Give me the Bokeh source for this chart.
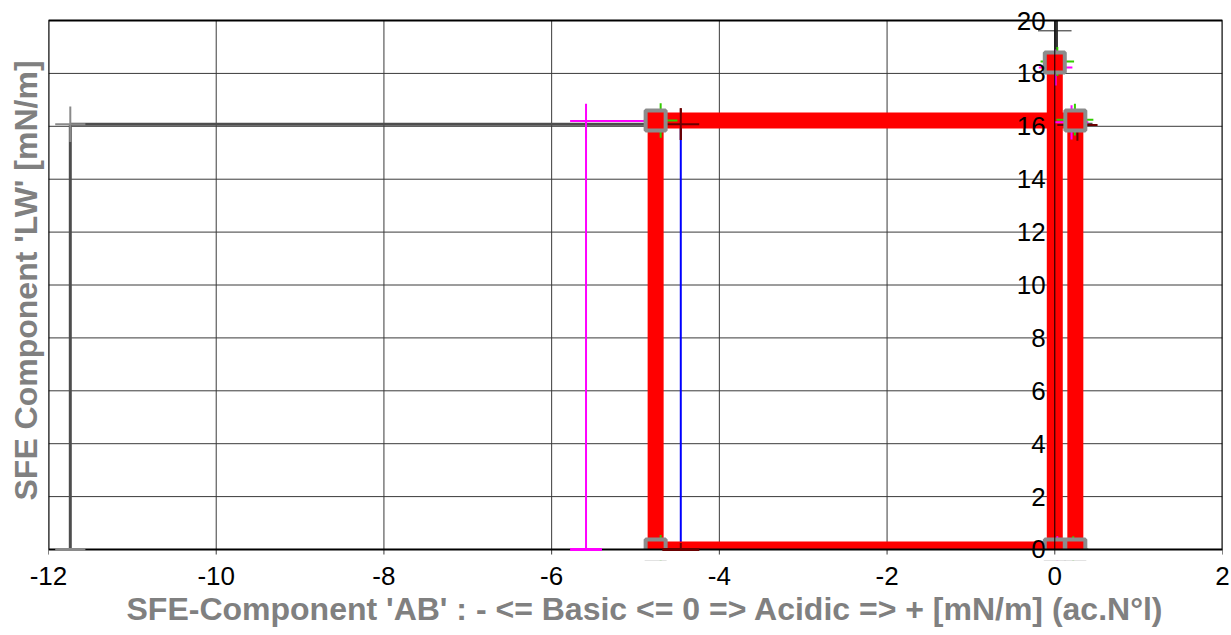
from bokeh.plotting import figure
from bokeh.models import Range1d, FixedTicker, Title, LabelSet, ColumnDataSource
from bokeh.core.properties import value
from bokeh.embed import file_html
from bokeh.resources import INLINE

# axis ticks
x_ticks = [-12, -10, -8, -6, -4, -2, 0, 2]
y_ticks = [0, 2, 4, 6, 8, 10, 12, 14, 16, 18, 20]

# test liquids: AB component, LW component and their spreads
liq_names = ["liquid 1", "liquid 2", "liquid 3"]
liq_ab = [-11.74, -5.59, -4.46]
liq_lw = [16.08, 16.20, 16.08]
liq_ab_err = [0.18, 0.19, 0.22]
liq_lw_err = [0.67, 0.65, 0.60]

# solid result: base part, acid part, LW part, total SFE
solid_base = -4.76
solid_acid = 0.245
solid_lw = 16.22
solid_total = 18.41
total_err = 0.80

# single measurement points around the result corners
pt_x = [-4.70, -4.46, 0.01, 0.03, 0.20, 0.24, 0.27, -4.70, -4.46, 0.03, 0.22]
pt_y = [16.22, 16.08, 18.22, 18.45, 16.15, 16.25, 16.05, 0.0, 0.0, 0.0, 0.0]
pt_xerr = [0.20, 0.22, 0.20, 0.20, 0.20, 0.22, 0.24, 0.20, 0.22, 0.18, 0.18]
pt_yerr = [0.65, 0.60, 0.68, 0.55, 0.65, 0.60, 0.60, 0.55, 0.25, 0.50, 0.50]

# styles
liq_line_colors = ["#4d4d4d", "#ff00ff", "#0000ff"]
liq_line_widths = [3, 2, 2]
liq_err_colors = ["#8a8a8a", "#ff00ff", "#6b0000"]
pt_colors = ["#33cc00", "#6b0000", "#ff00ff", "#33cc00", "#ff00ff", "#33cc00",
             "#6b0000", "#33cc00", "#6b0000", "#ff00ff", "#33cc00"]
FONT = "Liberation Sans"
TICK_SIZE = "26px"
LABEL_SIZE = "32px"

x0, x1 = x_ticks[0], x_ticks[-1]
y0, y1 = y_ticks[0], y_ticks[-1]

# the canvas leaves a little room above and below the 0..20 box so the
# axis numbers at both ends of the LW axis stay whole
p = figure(width=1231, height=635,
           x_range=Range1d(x0, x1), y_range=Range1d(-0.416, 20.454),
           output_backend="svg", toolbar_location=None,
           min_border_left=48, min_border_right=9,
           min_border_top=8, min_border_bottom=75)
p.background_fill_color = "white"
p.border_fill_color = "white"
p.outline_line_color = None
p.xgrid.visible = False
p.ygrid.visible = False
p.yaxis.visible = False

# x axis numbers (ticks are drawn on the box below)
xa = p.xaxis[0]
xa.ticker = FixedTicker(ticks=x_ticks)
xa.major_label_overrides = {t: str(t) for t in x_ticks}
xa.major_label_text_font = FONT
xa.major_label_text_font_size = TICK_SIZE
xa.major_label_text_color = "black"
xa.major_label_standoff = 6
xa.major_tick_out = 0
xa.major_tick_in = 0
xa.minor_tick_out = 0
xa.minor_tick_in = 0
xa.axis_line_color = None

# axis titles
p.add_layout(Title(text="SFE-Component 'AB' : - <= Basic <= 0 => Acidic => + [mN/m] (ac.N°l)",
                   align="left", offset=78, standoff=2,
                   text_font=FONT, text_font_size=LABEL_SIZE, text_font_style="bold",
                   text_color="#808080"), "below")
p.add_layout(Title(text="SFE Component 'LW' [mN/m]", align="left", offset=60,
                   text_font=FONT, text_font_size=LABEL_SIZE, text_font_style="bold",
                   text_color="#808080"), "left")

# grid
p.segment(x0=x_ticks, y0=[y0 - 0.19] * len(x_ticks), x1=x_ticks, y1=[y1] * len(x_ticks),
          line_color="#3a3a3a", line_width=1)
p.segment(x0=[x0] * len(y_ticks), y0=y_ticks, x1=[x1] * len(y_ticks), y1=y_ticks,
          line_color="#3a3a3a", line_width=1)

# liquids: drop lines to both axes, then spread crosses
for i in range(len(liq_ab)):
    ab, lw = liq_ab[i], liq_lw[i]
    p.line([ab, ab], [0, lw], line_color=liq_line_colors[i], line_width=liq_line_widths[i])
    p.line([ab, 0.45 if i == 0 else 0], [lw, lw], line_color=liq_line_colors[i],
           line_width=liq_line_widths[i])
for i in range(len(liq_ab)):
    ab, lw = liq_ab[i], liq_lw[i]
    p.segment(x0=[ab - liq_ab_err[i], ab], y0=[lw, lw],
              x1=[ab + liq_ab_err[i], ab], y1=[lw, lw + liq_lw_err[i]],
              line_color=liq_err_colors[i], line_width=2)
    p.segment(x0=[ab], y0=[lw - liq_lw_err[i]], x1=[ab], y1=[lw],
              line_color=liq_err_colors[i], line_width=2)

# solid result frame
p.line([solid_base, solid_base, solid_acid, solid_acid],
       [0, solid_lw, solid_lw, 0],
       line_color="#ff0000", line_width=16, line_join="miter")
p.line([solid_base, solid_acid], [0, 0], line_color="#ff0000", line_width=16)
p.line([0, 0], [0, solid_total], line_color="#ff0000", line_width=16)

# spread of the total
p.line([0.02, 0.02], [solid_total, y1], line_color="#333333", line_width=3)
p.line([-0.2, 0.2], [solid_total + total_err * 1.5, solid_total + total_err * 1.5],
       line_color="#222222", line_width=1)

# single measurement crosses
p.segment(x0=[x - e for x, e in zip(pt_x, pt_xerr)], y0=pt_y,
          x1=[x + e for x, e in zip(pt_x, pt_xerr)], y1=pt_y,
          line_color=pt_colors, line_width=2)
p.segment(x0=pt_x, y0=[y - e for y, e in zip(pt_y, pt_yerr)],
          x1=pt_x, y1=[y + e for y, e in zip(pt_y, pt_yerr)],
          line_color=pt_colors, line_width=2)

# corner markers of the result
p.scatter([solid_base, solid_base, 0, solid_acid, 0, solid_acid],
          [solid_lw, 0, solid_total, solid_lw, 0, 0],
          marker="square", size=20, fill_color="#ff0000",
          line_color="#8c8c8c", line_width=4)

# everything below LW = 0 stays outside the box
p.quad(left=[x0 - 1], right=[x1 + 1], bottom=[-1], top=[y0],
       fill_color="white", line_color=None)
# x ticks below the box
p.segment(x0=x_ticks, y0=[y0 - 0.19] * len(x_ticks), x1=x_ticks, y1=[y0] * len(x_ticks),
          line_color="#3a3a3a", line_width=1)

# LW axis on AB = 0
p.line([0, 0], [y0, y1], line_color="black", line_width=1)

# box
p.line([x0, x1, x1, x0, x0], [y0, y0, y1, y1, y0], line_color="black", line_width=2)

# spread of the liquids on the AB axis
p.segment(x0=[a - e for a, e in zip(liq_ab, liq_ab_err)], y0=[y0] * len(liq_ab),
          x1=[a + e for a, e in zip(liq_ab, liq_ab_err)], y1=[y0] * len(liq_ab),
          line_color=liq_err_colors, line_width=3)

# LW axis numbers
ylab = ColumnDataSource(dict(x=[0] * len(y_ticks), y=y_ticks,
                             t=[str(v) for v in y_ticks]))
p.add_layout(LabelSet(x="x", y="y", text="t", source=ylab,
                      x_offset=-9, text_align="right", text_baseline="middle",
                      text_font=value(FONT), text_font_size=value(TICK_SIZE),
                      text_color="black"))

open("out.html", "w").write(file_html(p, INLINE))
